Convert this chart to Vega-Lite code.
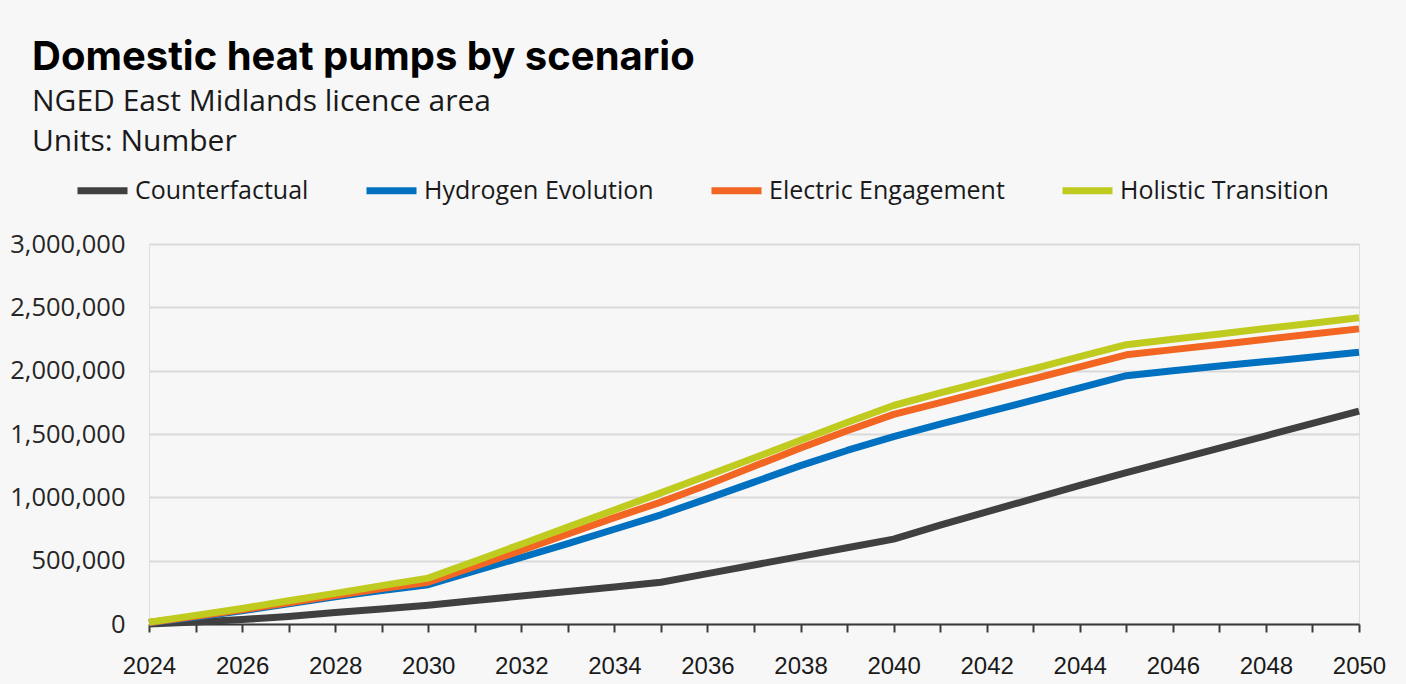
{
  "$schema": "https://vega.github.io/schema/vega-lite/v6.json",
  "width": 1210,
  "height": 380,
  "autosize": "none",
  "padding": {"left": 149, "top": 244, "right": 47, "bottom": 60},
  "background": "#f7f7f7",
  "title": {
    "text": "Domestic heat pumps by scenario",
    "subtitle": ["NGED East Midlands licence area", "Units: Number"],
    "anchor": "start",
    "frame": "group",
    "dx": -117,
    "offset": 5,
    "font": "Inter",
    "fontSize": 40,
    "fontWeight": "bold",
    "color": "#000000",
    "subtitleFont": "Open Sans",
    "subtitleFontSize": 30,
    "subtitleColor": "#1a1a1a",
    "subtitleLineHeight": 40,
    "subtitlePadding": 9
  },
  "data": {
    "values": [
      {"year": 2024, "scenario": "Counterfactual", "value": 0},
      {"year": 2025, "scenario": "Counterfactual", "value": 15000},
      {"year": 2026, "scenario": "Counterfactual", "value": 35000},
      {"year": 2027, "scenario": "Counterfactual", "value": 60000},
      {"year": 2028, "scenario": "Counterfactual", "value": 90000},
      {"year": 2029, "scenario": "Counterfactual", "value": 118000},
      {"year": 2030, "scenario": "Counterfactual", "value": 148000},
      {"year": 2031, "scenario": "Counterfactual", "value": 185000},
      {"year": 2032, "scenario": "Counterfactual", "value": 221000},
      {"year": 2033, "scenario": "Counterfactual", "value": 256000},
      {"year": 2034, "scenario": "Counterfactual", "value": 292000},
      {"year": 2035, "scenario": "Counterfactual", "value": 330000},
      {"year": 2036, "scenario": "Counterfactual", "value": 398000},
      {"year": 2037, "scenario": "Counterfactual", "value": 466000},
      {"year": 2038, "scenario": "Counterfactual", "value": 534000},
      {"year": 2039, "scenario": "Counterfactual", "value": 602000},
      {"year": 2040, "scenario": "Counterfactual", "value": 670000},
      {"year": 2041, "scenario": "Counterfactual", "value": 780000},
      {"year": 2042, "scenario": "Counterfactual", "value": 885000},
      {"year": 2043, "scenario": "Counterfactual", "value": 990000},
      {"year": 2044, "scenario": "Counterfactual", "value": 1095000},
      {"year": 2045, "scenario": "Counterfactual", "value": 1195000},
      {"year": 2046, "scenario": "Counterfactual", "value": 1292000},
      {"year": 2047, "scenario": "Counterfactual", "value": 1389000},
      {"year": 2048, "scenario": "Counterfactual", "value": 1486000},
      {"year": 2049, "scenario": "Counterfactual", "value": 1583000},
      {"year": 2050, "scenario": "Counterfactual", "value": 1680000},
      {"year": 2024, "scenario": "Hydrogen Evolution", "value": 10000},
      {"year": 2025, "scenario": "Hydrogen Evolution", "value": 55000},
      {"year": 2026, "scenario": "Hydrogen Evolution", "value": 105000},
      {"year": 2027, "scenario": "Hydrogen Evolution", "value": 160000},
      {"year": 2028, "scenario": "Hydrogen Evolution", "value": 215000},
      {"year": 2029, "scenario": "Hydrogen Evolution", "value": 265000},
      {"year": 2030, "scenario": "Hydrogen Evolution", "value": 310000},
      {"year": 2031, "scenario": "Hydrogen Evolution", "value": 420000},
      {"year": 2032, "scenario": "Hydrogen Evolution", "value": 525000},
      {"year": 2033, "scenario": "Hydrogen Evolution", "value": 635000},
      {"year": 2034, "scenario": "Hydrogen Evolution", "value": 748000},
      {"year": 2035, "scenario": "Hydrogen Evolution", "value": 862000},
      {"year": 2036, "scenario": "Hydrogen Evolution", "value": 990000},
      {"year": 2037, "scenario": "Hydrogen Evolution", "value": 1120000},
      {"year": 2038, "scenario": "Hydrogen Evolution", "value": 1250000},
      {"year": 2039, "scenario": "Hydrogen Evolution", "value": 1370000},
      {"year": 2040, "scenario": "Hydrogen Evolution", "value": 1480000},
      {"year": 2041, "scenario": "Hydrogen Evolution", "value": 1578000},
      {"year": 2042, "scenario": "Hydrogen Evolution", "value": 1672000},
      {"year": 2043, "scenario": "Hydrogen Evolution", "value": 1768000},
      {"year": 2044, "scenario": "Hydrogen Evolution", "value": 1865000},
      {"year": 2045, "scenario": "Hydrogen Evolution", "value": 1960000},
      {"year": 2046, "scenario": "Hydrogen Evolution", "value": 2000000},
      {"year": 2047, "scenario": "Hydrogen Evolution", "value": 2036000},
      {"year": 2048, "scenario": "Hydrogen Evolution", "value": 2072000},
      {"year": 2049, "scenario": "Hydrogen Evolution", "value": 2108000},
      {"year": 2050, "scenario": "Hydrogen Evolution", "value": 2145000},
      {"year": 2024, "scenario": "Electric Engagement", "value": 12000},
      {"year": 2025, "scenario": "Electric Engagement", "value": 60000},
      {"year": 2026, "scenario": "Electric Engagement", "value": 112000},
      {"year": 2027, "scenario": "Electric Engagement", "value": 168000},
      {"year": 2028, "scenario": "Electric Engagement", "value": 225000},
      {"year": 2029, "scenario": "Electric Engagement", "value": 280000},
      {"year": 2030, "scenario": "Electric Engagement", "value": 330000},
      {"year": 2031, "scenario": "Electric Engagement", "value": 455000},
      {"year": 2032, "scenario": "Electric Engagement", "value": 580000},
      {"year": 2033, "scenario": "Electric Engagement", "value": 710000},
      {"year": 2034, "scenario": "Electric Engagement", "value": 840000},
      {"year": 2035, "scenario": "Electric Engagement", "value": 962000},
      {"year": 2036, "scenario": "Electric Engagement", "value": 1100000},
      {"year": 2037, "scenario": "Electric Engagement", "value": 1245000},
      {"year": 2038, "scenario": "Electric Engagement", "value": 1390000},
      {"year": 2039, "scenario": "Electric Engagement", "value": 1525000},
      {"year": 2040, "scenario": "Electric Engagement", "value": 1655000},
      {"year": 2041, "scenario": "Electric Engagement", "value": 1748000},
      {"year": 2042, "scenario": "Electric Engagement", "value": 1842000},
      {"year": 2043, "scenario": "Electric Engagement", "value": 1936000},
      {"year": 2044, "scenario": "Electric Engagement", "value": 2030000},
      {"year": 2045, "scenario": "Electric Engagement", "value": 2125000},
      {"year": 2046, "scenario": "Electric Engagement", "value": 2166000},
      {"year": 2047, "scenario": "Electric Engagement", "value": 2207000},
      {"year": 2048, "scenario": "Electric Engagement", "value": 2248000},
      {"year": 2049, "scenario": "Electric Engagement", "value": 2289000},
      {"year": 2050, "scenario": "Electric Engagement", "value": 2330000},
      {"year": 2024, "scenario": "Holistic Transition", "value": 15000},
      {"year": 2025, "scenario": "Holistic Transition", "value": 68000},
      {"year": 2026, "scenario": "Holistic Transition", "value": 123000},
      {"year": 2027, "scenario": "Holistic Transition", "value": 183000},
      {"year": 2028, "scenario": "Holistic Transition", "value": 242000},
      {"year": 2029, "scenario": "Holistic Transition", "value": 303000},
      {"year": 2030, "scenario": "Holistic Transition", "value": 362000},
      {"year": 2031, "scenario": "Holistic Transition", "value": 495000},
      {"year": 2032, "scenario": "Holistic Transition", "value": 630000},
      {"year": 2033, "scenario": "Holistic Transition", "value": 765000},
      {"year": 2034, "scenario": "Holistic Transition", "value": 900000},
      {"year": 2035, "scenario": "Holistic Transition", "value": 1035000},
      {"year": 2036, "scenario": "Holistic Transition", "value": 1172000},
      {"year": 2037, "scenario": "Holistic Transition", "value": 1310000},
      {"year": 2038, "scenario": "Holistic Transition", "value": 1450000},
      {"year": 2039, "scenario": "Holistic Transition", "value": 1590000},
      {"year": 2040, "scenario": "Holistic Transition", "value": 1725000},
      {"year": 2041, "scenario": "Holistic Transition", "value": 1825000},
      {"year": 2042, "scenario": "Holistic Transition", "value": 1920000},
      {"year": 2043, "scenario": "Holistic Transition", "value": 2015000},
      {"year": 2044, "scenario": "Holistic Transition", "value": 2110000},
      {"year": 2045, "scenario": "Holistic Transition", "value": 2205000},
      {"year": 2046, "scenario": "Holistic Transition", "value": 2248000},
      {"year": 2047, "scenario": "Holistic Transition", "value": 2290000},
      {"year": 2048, "scenario": "Holistic Transition", "value": 2333000},
      {"year": 2049, "scenario": "Holistic Transition", "value": 2375000},
      {"year": 2050, "scenario": "Holistic Transition", "value": 2418000}
    ]
  },
  "mark": {"type": "line", "strokeWidth": 7, "strokeCap": "butt", "strokeJoin": "round"},
  "encoding": {
    "x": {
      "field": "year",
      "type": "quantitative",
      "scale": {"domain": [2024, 2050], "nice": false, "zero": false},
      "axis": {
        "title": null,
        "grid": false,
        "values": [2024, 2025, 2026, 2027, 2028, 2029, 2030, 2031, 2032, 2033, 2034, 2035, 2036, 2037, 2038, 2039, 2040, 2041, 2042, 2043, 2044, 2045, 2046, 2047, 2048, 2049, 2050],
        "format": "d",
        "labelExpr": "datum.value % 2 === 0 ? datum.label : ''",
        "labelFont": "Liberation Sans",
        "labelFontSize": 24,
        "labelColor": "#1a1a1a",
        "labelPadding": 22,
        "labelFlush": false,
        "labelOverlap": false,
        "domainColor": "#3a3a3a",
        "domainWidth": 2,
        "tickColor": "#3a3a3a",
        "tickWidth": 2,
        "tickSize": 8
      }
    },
    "y": {
      "field": "value",
      "type": "quantitative",
      "scale": {"domain": [0, 3000000], "nice": false},
      "axis": {
        "title": null,
        "values": [0, 500000, 1000000, 1500000, 2000000, 2500000, 3000000],
        "format": ",d",
        "domain": false,
        "ticks": false,
        "gridColor": "#d9d9d9",
        "gridWidth": 2,
        "labelFont": "Open Sans",
        "labelFontSize": 25.5,
        "labelColor": "#262626",
        "labelPadding": 24
      }
    },
    "color": {
      "field": "scenario",
      "type": "nominal",
      "scale": {
        "domain": ["Counterfactual", "Hydrogen Evolution", "Electric Engagement", "Holistic Transition"],
        "range": ["#404040", "#0070c0", "#f26522", "#bfcb1f"]
      },
      "legend": {
        "title": null,
        "orient": "none",
        "legendX": -75,
        "legendY": -82,
        "direction": "horizontal",
        "symbolType": "stroke",
        "symbolSize": 2500,
        "symbolStrokeWidth": 7,
        "labelFont": "Open Sans",
        "labelFontSize": 25,
        "labelLimit": 0,
        "labelColor": "#1a1a1a",
        "labelOffset": 4,
        "columnPadding": 43
      }
    }
  }
}
